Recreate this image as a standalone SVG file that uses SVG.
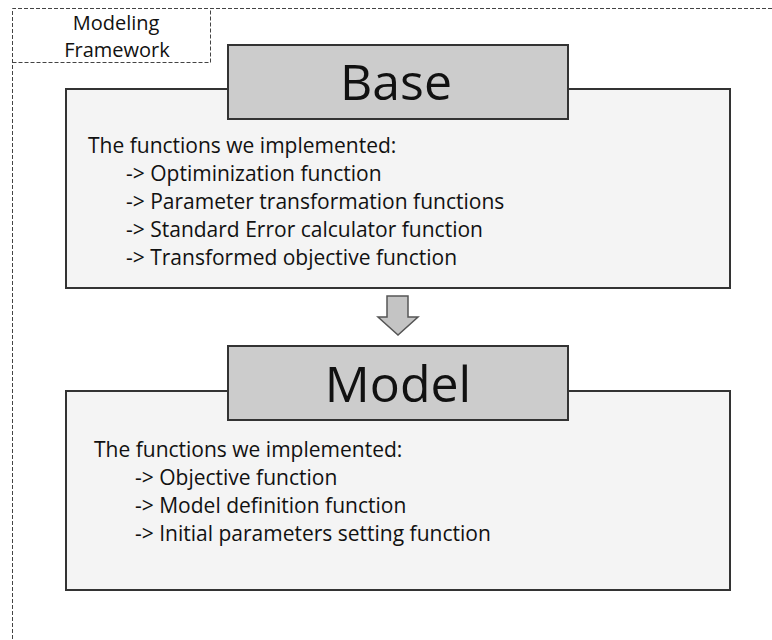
<svg xmlns="http://www.w3.org/2000/svg" width="772" height="640" viewBox="0 0 772 640">
<style>
.dash{fill:none;stroke:#444;stroke-width:1;stroke-dasharray:4 2}
.outer{fill:#f4f4f4;stroke:#333;stroke-width:2}
.title{fill:#cccccc;stroke:#333;stroke-width:2}
text{font-family:"Open Sans","Noto Sans",sans-serif;fill:#111}
.lbl{font-size:20px}
.big{font-size:50px}
.body{font-size:21px}
</style>
<rect width="772" height="640" fill="#fff"/>
<g id="frame">
<path class="dash" d="M12.5 645 V8.5 H772"/>
<path class="dash" d="M12.5 62.5 H210.5 V8.5"/>
<text class="lbl" x="116" y="30" text-anchor="middle">Modeling</text>
<text class="lbl" x="117" y="57" text-anchor="middle">Framework</text>
</g>
<g id="base">
<rect class="outer" x="66" y="89" width="664" height="199"/>
<rect class="title" x="228" y="45" width="340" height="74"/>
<text class="big" x="396" y="100" text-anchor="middle">Base</text>
<text class="body" x="88" y="153">The functions we implemented:</text>
<text class="body" x="126" y="181">-&gt; Optiminization function</text>
<text class="body" x="126" y="209">-&gt; Parameter transformation functions</text>
<text class="body" x="126" y="237">-&gt; Standard Error calculator function</text>
<text class="body" x="126" y="265">-&gt; Transformed objective function</text>
</g>
<g id="connectors">
<polygon points="387,296 408,296 408,317 418,317 398,335 378,317 387,317" fill="#c4c4c4" stroke="#555" stroke-width="1.5"/>
</g>
<g id="model">
<rect class="outer" x="66" y="391" width="664" height="199"/>
<rect class="title" x="228" y="346" width="340" height="74"/>
<text class="big" x="398" y="402" text-anchor="middle">Model</text>
<text class="body" x="94" y="457">The functions we implemented:</text>
<text class="body" x="135" y="485">-&gt; Objective function</text>
<text class="body" x="135" y="513">-&gt; Model definition function</text>
<text class="body" x="135" y="541">-&gt; Initial parameters setting function</text>
</g>
</svg>
